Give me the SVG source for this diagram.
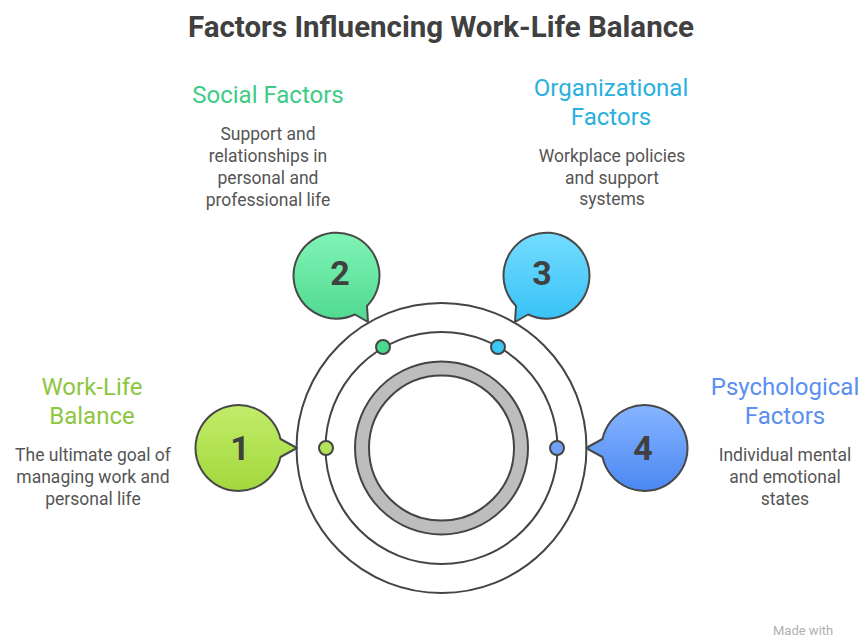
<svg xmlns="http://www.w3.org/2000/svg" width="861" height="637" viewBox="0 0 861 637">
<defs>
<linearGradient id="g1" x1="0" y1="0" x2="0" y2="1"><stop offset="0" stop-color="#c2ec6a"/><stop offset="1" stop-color="#a2d83c"/></linearGradient>
<linearGradient id="g2" x1="0" y1="0" x2="0" y2="1"><stop offset="0" stop-color="#80f4b6"/><stop offset="1" stop-color="#4fd98f"/></linearGradient>
<linearGradient id="g3" x1="0" y1="0" x2="0" y2="1"><stop offset="0" stop-color="#74dcff"/><stop offset="1" stop-color="#36c2f6"/></linearGradient>
<linearGradient id="g4" x1="0" y1="0" x2="0" y2="1"><stop offset="0" stop-color="#86b4ff"/><stop offset="1" stop-color="#4b88f3"/></linearGradient>
</defs>
<style>
text{font-family:Roboto,"Liberation Sans",sans-serif;}
.ttl{font-size:29.5px;font-weight:bold;fill:#404040;text-anchor:middle;}
.h{font-size:24px;text-anchor:middle;}
.d{font-size:17.5px;fill:#555;text-anchor:middle;}
.num{font-size:34px;font-weight:bold;fill:#404040;text-anchor:middle;}
.ring{fill:none;stroke:#444;stroke-width:2;}
.bub{stroke:#484848;stroke-width:2;stroke-linejoin:round;}
.dot{stroke:#444;stroke-width:2;}
</style>
<rect width="861" height="637" fill="#fff"/>
<text class="ttl" x="441" y="37">Factors Influencing Work-Life Balance</text>

<g id="rings">
<circle class="ring" cx="441.5" cy="448" r="145"/>
<circle class="ring" cx="441.5" cy="448" r="116"/>
<circle cx="441.5" cy="448" r="79.5" fill="none" stroke="#444" stroke-width="16"/>
<circle cx="441.5" cy="448" r="79.5" fill="none" stroke="#bdbdbd" stroke-width="12"/>
</g>

<g id="connectors">
<circle class="dot" cx="326" cy="448" r="7" fill="#b5e25a"/>
<circle class="dot" cx="383" cy="347" r="7" fill="#48d98f"/>
<circle class="dot" cx="498" cy="347" r="7" fill="#3cc6f5"/>
<circle class="dot" cx="557" cy="448" r="7" fill="#6fa2f7"/>
</g>

<g id="node1">
<path class="bub" fill="url(#g1)" d="M280.5,439 A43,43 0 1 0 280.5,457 L297,448 Z"/>
<text class="num" x="240" y="460">1</text>
<text class="h" x="92" y="395" fill="#8dc63f">Work-Life</text>
<text class="h" x="92" y="424" fill="#8dc63f">Balance</text>
<text class="d" x="93" y="461">The ultimate goal of</text>
<text class="d" x="93" y="483">managing work and</text>
<text class="d" x="93" y="505">personal life</text>
</g>

<g id="node2">
<path class="bub" fill="url(#g2)" d="M367,306 A43,43 0 1 0 355,314.5 L368,322 Z"/>
<text class="num" x="340" y="285">2</text>
<text class="h" x="268" y="103" fill="#3dcc85">Social Factors</text>
<text class="d" x="268" y="140">Support and</text>
<text class="d" x="268" y="162">relationships in</text>
<text class="d" x="268" y="184">personal and</text>
<text class="d" x="268" y="206">professional life</text>
</g>

<g id="node3">
<path class="bub" fill="url(#g3)" d="M516,306 A43,43 0 1 1 528,314.5 L515,322 Z"/>
<text class="num" x="542" y="285">3</text>
<text class="h" x="611" y="96" fill="#2ab0e0">Organizational</text>
<text class="h" x="611" y="125" fill="#2ab0e0">Factors</text>
<text class="d" x="612" y="162">Workplace policies</text>
<text class="d" x="612" y="184">and support</text>
<text class="d" x="612" y="205">systems</text>
</g>

<g id="node4">
<path class="bub" fill="url(#g4)" d="M602.5,439 A43,43 0 1 1 602.5,457 L586,448 Z"/>
<text class="num" x="643" y="460">4</text>
<text class="h" x="785" y="395" fill="#5b8fef">Psychological</text>
<text class="h" x="785" y="424" fill="#5b8fef">Factors</text>
<text class="d" x="785" y="461">Individual mental</text>
<text class="d" x="785" y="483">and emotional</text>
<text class="d" x="785" y="505">states</text>
</g>

<text x="773" y="635" font-size="13" fill="#b0b0b0">Made with</text>
</svg>
